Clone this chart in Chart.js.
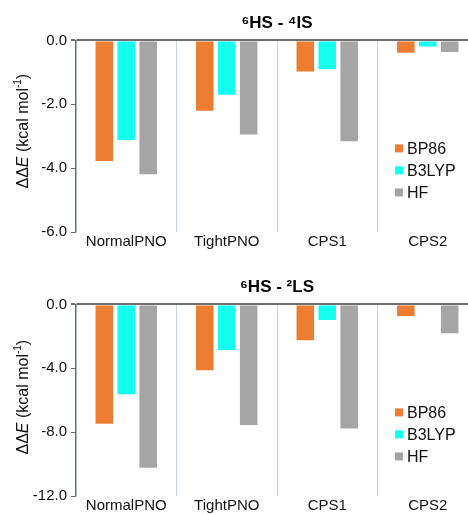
<!DOCTYPE html>
<html><head><meta charset="utf-8">
<script src="https://cdn.jsdelivr.net/npm/chart.js@4"></script>
<style>
html,body{margin:0;padding:0;background:#fff;overflow:hidden;width:468px;height:514px;position:relative}
#c1{position:absolute;left:0;top:0}
#c2{position:absolute;left:0;top:260px}
</style>
</head><body>
<canvas id="c1" width="478" height="256" style="width:478px;height:256px"></canvas>
<canvas id="c2" width="478" height="258" style="width:478px;height:258px"></canvas>
<script>
// ---- data ----
const categories = ['NormalPNO', 'TightPNO', 'CPS1', 'CPS2'];
const seriesNames = ['BP86', 'B3LYP', 'HF'];
const seriesColors = ['#ED7D31', '#14FFF0', '#A5A5A5'];

// 6HS - 4IS
const title1 = '⁶HS - ⁴IS';
const hsIs_BP86  = [-3.78, -2.20, -0.97, -0.39];
const hsIs_B3LYP = [-3.12, -1.70, -0.90, -0.19];
const hsIs_HF    = [-4.19, -2.95, -3.16, -0.36];
const yTicks1 = [0, -2, -4, -6];

// 6HS - 2LS
const title2 = '⁶HS - ²LS';
const hsLs_BP86  = [-7.48, -4.13, -2.25, -0.73];
const hsLs_B3LYP = [-5.63, -2.85, -0.98, 0];
const hsLs_HF    = [-10.23, -7.56, -7.77, -1.81];
const yTicks2 = [0, -4, -8, -12];

const FONT = '"Liberation Sans", Arial, Helvetica, sans-serif';
Chart.defaults.font.family = FONT;
Chart.defaults.color = '#111';

const overlay = {
  id: 'overlay',
  afterDraw(chart, args, opts) {
    const ctx = chart.ctx, a = chart.chartArea;
    ctx.save();
    // legend inside plot
    ctx.font = '16px ' + FONT;
    ctx.textBaseline = 'middle';
    ctx.textAlign = 'left';
    chart.data.datasets.forEach((ds, i) => {
      const y = a.top + 108 + i * 22;
      ctx.fillStyle = ds.backgroundColor;
      ctx.fillRect(395, y - 4, 8, 8);
      ctx.fillStyle = '#111';
      ctx.fillText(ds.label, 407, y + 1);
    });
    // y-axis title with italic E and superscript
    const parts = [
      {t: 'ΔΔ', f: '16px ' + FONT, dy: 0},
      {t: 'E', f: 'italic 16px ' + FONT, dy: 0},
      {t: ' (kcal mol', f: '16px ' + FONT, dy: 0},
      {t: '-1', f: '10px ' + FONT, dy: -6},
      {t: ')', f: '16px ' + FONT, dy: 0}
    ];
    let w = 0;
    parts.forEach(p => { ctx.font = p.f; p.w = ctx.measureText(p.t).width; w += p.w; });
    const cy = (a.top + a.bottom) / 2 + opts.titleShift;
    ctx.translate(24, cy);
    ctx.rotate(-Math.PI / 2);
    let x = -w / 2;
    ctx.fillStyle = '#111';
    ctx.textBaseline = 'middle';
    parts.forEach(p => { ctx.font = p.f; ctx.fillText(p.t, x, p.dy); x += p.w; });
    ctx.restore();
  }
};

function makeChart(id, title, s1, s2, s3, ticks, titlePadTop, xHeight, titleShift) {
  const step = Math.abs(ticks[1] - ticks[0]);
  return new Chart(document.getElementById(id), {
    type: 'bar',
    data: {
      labels: categories,
      datasets: [s1, s2, s3].map((d, i) => ({
        label: seriesNames[i],
        data: d,
        backgroundColor: seriesColors[i],
        borderWidth: 0,
        categoryPercentage: 0.655,
        barPercentage: 0.8
      }))
    },
    options: {
      responsive: false,
      animation: false,
      devicePixelRatio: 1,
      layout: {padding: 0},
      plugins: {
        legend: {display: false},
        tooltip: {enabled: false},
        title: {
          display: true, text: title, fullSize: false,
          font: {size: 17, weight: 'bold', family: FONT},
          color: '#000',
          padding: {top: titlePadTop, bottom: 7}
        },
        overlay: {titleShift: titleShift}
      },
      scales: {
        x: {
          grid: {offset: true, color: '#c8d2de', lineWidth: 1, drawTicks: false},
          border: {display: false},
          ticks: {font: {size: 15}, color: '#111', padding: 1},
          afterFit(scale) { scale.height = xHeight; }
        },
        y: {
          min: Math.min(...ticks), max: Math.max(...ticks),
          ticks: {
            stepSize: step, font: {size: 15}, color: '#111', padding: 4,
            callback: v => (v === 0 ? 0 : v).toFixed(1)
          },
          grid: {
            color: c => (c.tick && c.tick.value === 0) ? '#6e6e6e' : 'rgba(0,0,0,0)',
            lineWidth: c => (c.tick && c.tick.value === 0) ? 2 : 1,
            tickColor: '#6e6e6e', tickLength: 5, drawTicks: true
          },
          border: {display: true, color: '#6e6e6e', width: 1.3},
          afterFit(scale) { scale.width = 76; }
        }
      }
    },
    plugins: [overlay]
  });
}

makeChart('c1', title1, hsIs_BP86, hsIs_B3LYP, hsIs_HF, yTicks1, 13, 24, -5);
makeChart('c2', title2, hsLs_BP86, hsLs_B3LYP, hsLs_HF, yTicks2, 17, 22, -3);
</script>
</body></html>
